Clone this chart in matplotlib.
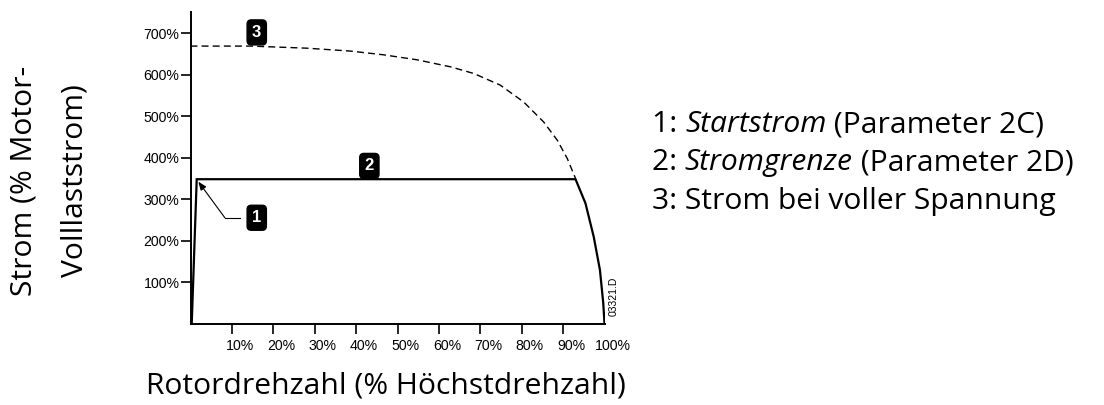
import matplotlib
matplotlib.use("Agg")
import matplotlib.pyplot as plt
import matplotlib.transforms as mtransforms

# Rotor speed (% of max) vs. current (% of motor full-load current)
full_voltage_speed = [0.0, 14.5, 28.0, 38.6, 46.6, 54.7, 62.8, 68.4, 74.8,
                      80.5, 85.3, 88.6, 91.0, 93.0]
full_voltage_current = [669, 669, 664, 657, 648, 636, 619, 603, 575,
                        534, 486, 442, 398, 350]

limit_speed = [0.3, 1.5, 93.0, 95.4, 97.4, 98.9, 99.7, 100.0]
limit_current = [0, 348, 348, 290, 209, 129, 49, 0]

x_ticks = [10, 20, 30, 40, 50, 60, 70, 80, 90, 100]
y_ticks = [100, 200, 300, 400, 500, 600, 700]
x_tick_labels = [f"{v}%" for v in x_ticks]
y_tick_labels = [f"{v}%" for v in y_ticks]

legend_lines = [
    ("1: ", "Startstrom", " (Parameter 2C)"),
    ("2: ", "Stromgrenze", " (Parameter 2D)"),
    ("3: Strom bei voller Spannung", "", ""),
]

label_font = "Open Sans"
label_size = 21.6
tick_font = "Liberation Sans"
tick_size = 10.2

fig = plt.figure(figsize=(11.04, 4.05), dpi=100)
ax = fig.add_axes([190.5 / 1104, 81.5 / 405, 414 / 1104, 311 / 405])
ax.set_xlim(0, 100)
ax.set_ylim(0, 750)

ax.plot(full_voltage_speed, full_voltage_current, color="black", lw=1.0,
        linestyle=(0, (5, 3)))
ax.plot(limit_speed, limit_current, color="black", lw=1.6, solid_joinstyle="miter")

for side in ("top", "right"):
    ax.spines[side].set_visible(False)
for side in ("left", "bottom"):
    ax.spines[side].set_linewidth(1.4)

ax.set_xticks(x_ticks)
ax.set_xticklabels(x_tick_labels, fontfamily=tick_font, fontsize=tick_size)
ax.set_yticks(y_ticks)
ax.set_yticklabels(y_tick_labels, fontfamily=tick_font, fontsize=tick_size)
ax.tick_params(axis="both", direction="out", length=7, width=1.2, color="black")
ax.tick_params(axis="x", pad=4)
ax.tick_params(axis="y", pad=1)
ax.xaxis.get_major_ticks()[-1].tick1line.set_visible(False)

# x tick labels sit slightly to the right of their ticks
shift = mtransforms.ScaledTranslation(8 / 100, 0, fig.dpi_scale_trans)
for lbl in ax.get_xticklabels():
    lbl.set_transform(lbl.get_transform() + shift)

# numbered callout boxes
box_kw = dict(boxstyle="round,pad=0.3,rounding_size=0.25", fc="black", ec="black")
for num, (bx, by) in zip(["3", "2", "1"], [(16.0, 702), (43.2, 380), (16.0, 255)]):
    ax.text(bx, by, num, color="white", fontweight="bold", fontsize=12,
            fontfamily=tick_font, ha="center", va="center", bbox=box_kw)

# leader arrow from callout 1 to the starting current point
ax.plot([12.0, 8.3], [255, 255], color="black", lw=0.8)
ax.annotate("", xy=(1.9, 342), xytext=(8.3, 255),
            arrowprops=dict(arrowstyle="-|>,head_length=0.5,head_width=0.2",
                            color="black", lw=0.8, shrinkA=0, shrinkB=0))

ax.text(102.2, 66, "03321.D", rotation=90, fontsize=7.5, fontfamily=tick_font,
        ha="center", va="center", clip_on=False)

# axis titles
fig.text(386 / 1104, 1 - 386 / 405, "Rotordrehzahl (% Höchstdrehzahl)",
         fontfamily=label_font, fontsize=label_size, ha="center", va="center")
fig.text(24 / 1104, 1 - 181 / 405, "Strom (% Motor-", rotation=90,
         fontfamily=label_font, fontsize=label_size, ha="center", va="center")
fig.text(75 / 1104, 1 - 181 / 405, "Volllaststrom)", rotation=90,
         fontfamily=label_font, fontsize=label_size, ha="center", va="center")

# key text with italic parameter names
for (a, b, c), yc in zip(legend_lines, [125, 163, 202]):
    t = fig.text(652 / 1104, 1 - yc / 405, a, fontfamily=label_font,
                 fontsize=label_size, ha="left", va="center")
    if b:
        it = fig.text(0, 0, b, fontfamily=label_font, fontsize=label_size,
                      style="italic", ha="left", va="bottom")
        fig.canvas.draw()
        r = fig.canvas.get_renderer()
        bb = t.get_window_extent(r)
        it.set_position((bb.x1 / fig.bbox.width, bb.y0 / fig.bbox.height))
        bb2 = it.get_window_extent(r)
        fig.text(bb2.x1 / fig.bbox.width, bb.y0 / fig.bbox.height, c,
                 fontfamily=label_font, fontsize=label_size, ha="left", va="bottom")

fig.savefig("out.png", dpi=100)
